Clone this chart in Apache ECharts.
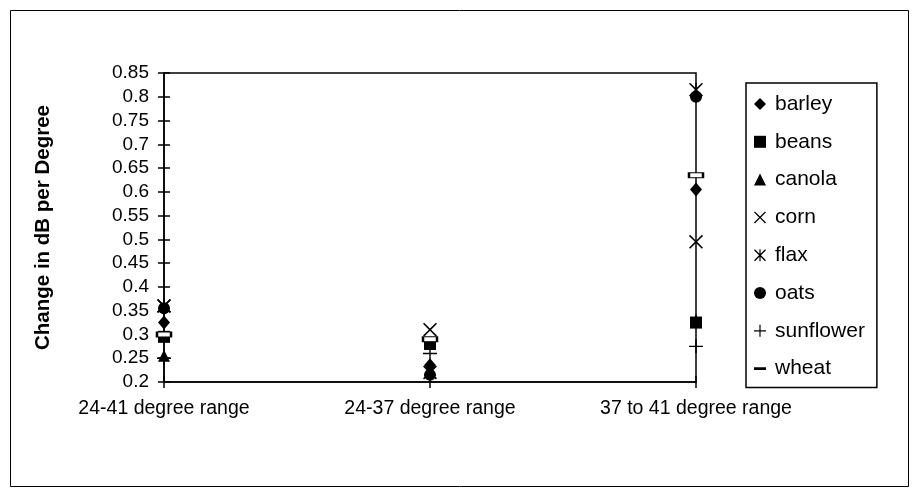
<!DOCTYPE html>
<html>
<head>
<meta charset="utf-8">
<script src="https://cdn.jsdelivr.net/npm/echarts@6/dist/echarts.min.js"></script>
<style>html,body{margin:0;padding:0;background:#fff}#c{width:915px;height:493px}</style>
</head>
<body>
<div id="c"></div>
<script>
const categories = ['24-41 degree range', '24-37 degree range', '37 to 41 degree range'];
const barley = [0.325, 0.235, 0.605];
const beans = [0.295, 0.28, 0.325];
const canola = [0.255, 0.225, 0.33];
const corn = [0.36, 0.31, 0.495];
const flax = [0.36, 0.22, 0.815];
const oats = [0.355, 0.215, 0.8];
const sunflower = [0.25, 0.26, 0.275];
const wheat = [0.30, 0.29, 0.635];
const yMin = 0.2, yMax = 0.85, yStep = 0.05;
const yTitle = 'Change in dB per Degree';

const FONT = '"Liberation Sans", Arial, sans-serif';
const X_PATH = 'path://M0,8 L8,0 L50,42 L92,0 L100,8 L58,50 L100,92 L92,100 L50,58 L8,100 L0,92 L42,50 Z';
const PLUS_PATH = 'path://M45,0 H55 V45 H100 V55 H55 V100 H45 V55 H0 V45 H45 Z';
const AST_PATH = 'path://M0,8 L8,0 L50,42 L92,0 L100,8 L58,50 L100,92 L92,100 L50,58 L8,100 L0,92 L42,50 Z M45,0 H55 V100 H45 Z';
const DASH_LEGEND = 'path://M0,0 L0.5,0 L0,0.5 Z M0,38 H100 V62 H0 Z M100,100 L99.5,100 L100,99.5 Z';

const seriesDefs = [
  {name: 'barley', data: barley, symbol: 'diamond', size: [12, 14]},
  {name: 'beans', data: beans, symbol: 'rect', size: 12},
  {name: 'canola', data: canola, symbol: 'triangle', size: 12},
  {name: 'corn', data: corn, symbol: X_PATH, size: 14},
  {name: 'flax', data: flax, symbol: AST_PATH, size: 14},
  {name: 'oats', data: oats, symbol: 'circle', size: 12},
  {name: 'sunflower', data: sunflower, symbol: PLUS_PATH, size: 14},
  {name: 'wheat', data: wheat, symbol: 'rect', size: [14, 5], hollow: true}
];

const series = seriesDefs.map(s => ({
  name: s.name,
  type: 'scatter',
  data: s.data,
  symbol: s.symbol,
  symbolSize: s.size,
  itemStyle: s.hollow ? {color: '#fff', borderColor: '#000', borderWidth: 1.5, opacity: 1}
                      : {color: '#000', opacity: 1},
  emphasis: {disabled: true},
  z: 5
}));

const legendData = seriesDefs.map(s => s.name === 'wheat'
  ? {name: s.name, icon: DASH_LEGEND, itemStyle: {color: '#000', borderWidth: 0}}
  : {name: s.name});

const chart = echarts.init(document.getElementById('c'), null, {renderer: 'canvas'});
chart.setOption({
  animation: false,
  backgroundColor: '#fff',
  graphic: [{
    type: 'rect', left: 8, top: 8,
    shape: {width: 898, height: 476},
    style: {fill: 'none', stroke: '#000', lineWidth: 1},
    silent: true, z: -1
  }],
  grid: {left: 164, right: 219, top: 73, bottom: 111, show: true,
         borderColor: '#000', borderWidth: 1.5, backgroundColor: 'transparent'},
  legend: {
    orient: 'vertical', left: 746, top: 83,
    padding: [10, 12, 8, 8],
    borderColor: '#000', borderWidth: 1.5,
    itemWidth: 12, itemHeight: 12, itemGap: 15.8,
    textStyle: {color: '#000', fontFamily: FONT, fontSize: 21, lineHeight: 22, padding: [0, 0, 0, 4]},
    selectedMode: false,
    data: legendData
  },
  xAxis: [{
    type: 'category', data: categories, boundaryGap: false,
    axisLine: {lineStyle: {color: '#000', width: 1.5}},
    axisTick: {show: true, length: 6, alignWithLabel: true, lineStyle: {color: '#000', width: 1.5}},
    axisLabel: {margin: 17, interval: 0, color: '#000', fontFamily: FONT, fontSize: 19.5},
    splitLine: {show: false}
  }, {
    type: 'category', data: categories, boundaryGap: false, position: 'bottom', offset: 0,
    axisLine: {show: false},
    axisTick: {show: true, inside: true, length: 6, lineStyle: {color: '#000', width: 1.5}},
    axisLabel: {show: false}, splitLine: {show: false}
  }],
  yAxis: [{
    type: 'value', min: yMin, max: yMax, interval: yStep,
    name: yTitle, nameLocation: 'middle', nameGap: 110, nameRotate: 90,
    nameTextStyle: {color: '#000', fontFamily: FONT, fontSize: 20.5, fontWeight: 'bold'},
    axisLine: {show: true, lineStyle: {color: '#000', width: 1.5}},
    axisTick: {show: true, length: 6, lineStyle: {color: '#000', width: 1.5}},
    axisLabel: {margin: 15, color: '#000', fontFamily: FONT, fontSize: 19},
    splitLine: {show: false}
  }, {
    type: 'value', min: yMin, max: yMax, interval: yStep, position: 'left', offset: 0,
    axisLine: {show: false},
    axisTick: {show: true, inside: true, length: 6, lineStyle: {color: '#000', width: 1.5}},
    axisLabel: {show: false}, splitLine: {show: false}
  }],
  series: series
});
</script>
</body>
</html>
